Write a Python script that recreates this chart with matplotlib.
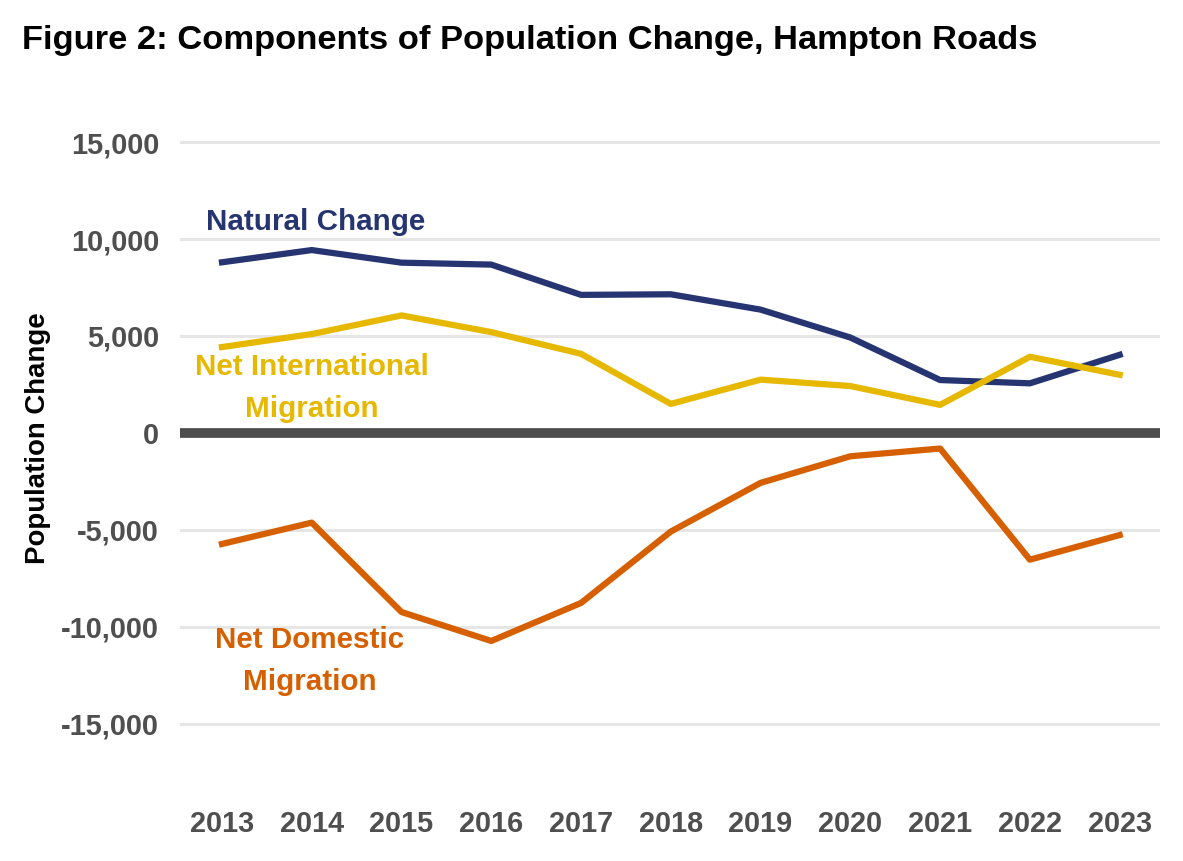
import matplotlib.pyplot as plt
from matplotlib.ticker import FuncFormatter

years = [2013, 2014, 2015, 2016, 2017, 2018, 2019, 2020, 2021, 2022, 2023]
natural_change = [8800, 9430, 8780, 8680, 7120, 7150, 6360, 4920, 2730, 2560, 4030]
net_international = [4430, 5100, 6060, 5200, 4080, 1500, 2750, 2420, 1450, 3930, 3000]
net_domestic = [-5720, -4620, -9230, -10720, -8760, -5080, -2570, -1200, -800, -6530, -5260]
y_ticks = [-15000, -10000, -5000, 0, 5000, 10000, 15000]

navy = '#263571'
gold = '#E6B800'
orange = '#D66000'
grey = '#4f4f4f'

plt.rcParams['font.family'] = ['Liberation Sans', 'DejaVu Sans']
plt.rcParams['font.weight'] = 'bold'

fig = plt.figure(figsize=(11.83, 8.61), dpi=100)
ax = fig.add_axes([0.152, 0.069, 0.8286, 0.8224])

for t in y_ticks:
    if t == 0:
        continue
    ax.axhline(t, color='#e6e6e6', lw=2.2, zorder=1)
ax.axhline(0, color='#4d4d4d', lw=7, zorder=2)

ax.plot(years, natural_change, color=navy, lw=4.5, zorder=3)
ax.plot(years, net_international, color=gold, lw=4.5, zorder=3)
ax.plot(years, net_domestic, color=orange, lw=4.5, zorder=3)

ax.text(2014.04, 10900, 'Natural Change', color=navy, fontsize=21.3,
        fontweight='bold', ha='center', va='center')
ax.text(2014.0, 2320, 'Net International\nMigration', color=gold, fontsize=21.3,
        fontweight='bold', ha='center', va='center', linespacing=1.65)
ax.text(2013.98, -11750, 'Net Domestic\nMigration', color=orange, fontsize=21.3,
        fontweight='bold', ha='center', va='center', linespacing=1.65)

ax.set_xlim(2012.53, 2023.45)
ax.set_ylim(-19000, 17500)
ax.set_xticks(years)
ax.set_yticks(y_ticks)
ax.yaxis.set_major_formatter(FuncFormatter(lambda v, p: f'{int(v):,}'))
ax.tick_params(length=0, labelsize=20.8, labelcolor=grey)
ax.tick_params(axis='y', pad=15)
ax.tick_params(axis='x', pad=6)
for lab in ax.get_xticklabels() + ax.get_yticklabels():
    lab.set_fontweight('bold')
for s in ax.spines.values():
    s.set_visible(False)

ax.set_ylabel('Population Change', fontsize=19.9, fontweight='bold', color='black')
ax.yaxis.set_label_coords(-0.131, 0.513)

fig.text(0.019, 0.953, 'Figure 2: Components of Population Change, Hampton Roads',
         fontsize=24.8, fontweight='bold', ha='left', va='center')

fig.savefig('out.png', dpi=100)
